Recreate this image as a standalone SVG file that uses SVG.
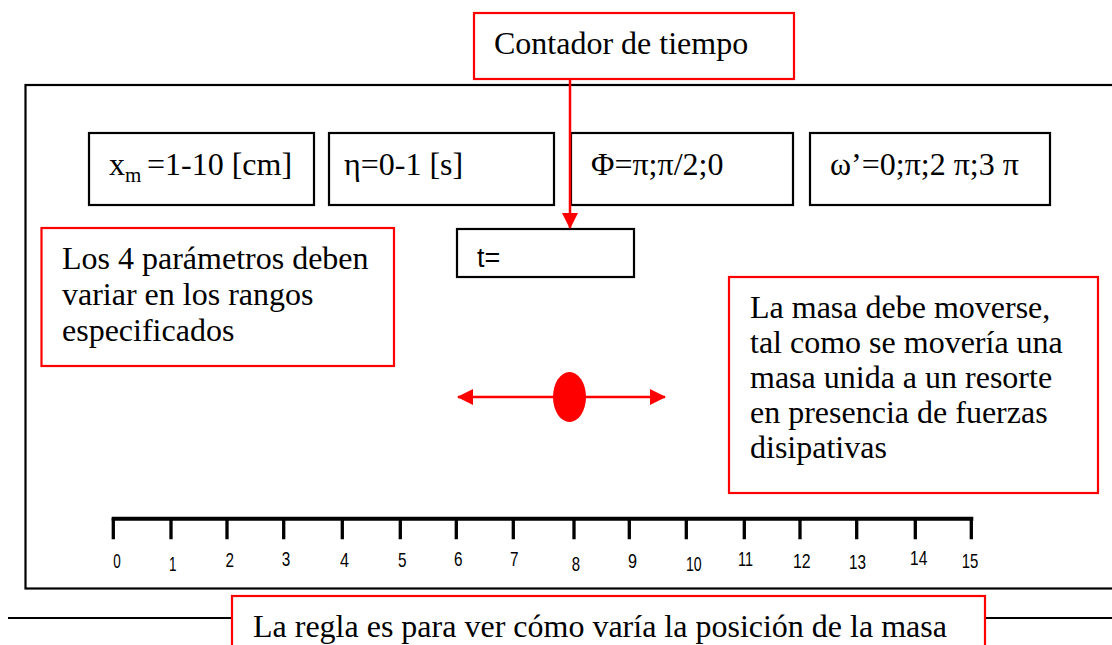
<svg xmlns="http://www.w3.org/2000/svg" width="1112" height="645" viewBox="0 0 1112 645">
<style>
.t{font-family:"Liberation Serif","Times New Roman",serif;font-size:32px;fill:#000}
.bb{fill:#fff;stroke:#000;stroke-width:2.2}
.rb{fill:#fff;stroke:#f00;stroke-width:2.2}
.rl{stroke:#f00;stroke-width:2.5;fill:none}
.num{font-family:"Liberation Sans",Arial,sans-serif;font-size:21px;fill:#000}
</style>
<defs>
<marker id="ah" viewBox="0 0 16 16" refX="15" refY="8" markerWidth="16" markerHeight="16" markerUnits="userSpaceOnUse" orient="auto-start-reverse">
<path d="M0,0 L16,8 L0,16 Z" fill="#f00"/>
</marker>
</defs>
<rect width="1112" height="645" fill="#fff"/>
<g id="frame"><rect x="25.5" y="85" width="1100" height="503.5" fill="none" stroke="#000" stroke-width="2.2"/></g>
<g id="pagebar"><line x1="8" y1="618" x2="1112" y2="618" stroke="#000" stroke-width="2.2"/></g>
<g id="contador"><rect class="rb" x="474" y="13" width="320" height="66"/><text class="t" x="494" y="54">Contador de tiempo</text></g>
<g id="xm"><rect class="bb" x="89" y="133" width="225" height="72"/><text class="t" x="109" y="175">x<tspan font-size="21" dy="7">m </tspan><tspan x="147" dy="-7">=1-10 [cm]</tspan></text></g>
<g id="eta"><rect class="bb" x="329" y="133" width="225" height="72"/><text class="t" x="344" y="175">η=0-1 [s]</text></g>
<g id="phi"><rect class="bb" x="571" y="133" width="222" height="72"/><text class="t" x="591" y="175">Φ=π;π/2;0</text></g>
<g id="omega"><rect class="bb" x="810" y="133" width="240" height="72"/><text class="t" x="830" y="175">ω’=0;π;2 π;3 π</text></g>
<g id="tbox"><rect class="bb" x="457" y="229" width="177" height="48"/><text x="477" y="267" font-family="Liberation Sans,Arial,sans-serif" font-size="27">t=</text></g>
<g id="nota-parametros"><rect class="rb" x="41.5" y="228" width="352.5" height="138"/><text class="t"><tspan x="62" y="269">Los 4 parámetros deben</tspan><tspan x="62" y="305">variar en los rangos</tspan><tspan x="62" y="341">especificados</tspan></text></g>
<g id="nota-masa"><rect class="rb" x="729" y="277" width="369" height="216"/><text class="t"><tspan x="750" y="318">La masa debe moverse,</tspan><tspan x="750" y="353">tal como se movería una</tspan><tspan x="750" y="388">masa unida a un resorte</tspan><tspan x="750" y="423">en presencia de fuerzas</tspan><tspan x="750" y="458">disipativas</tspan></text></g>
<g id="masa"><ellipse cx="569.5" cy="397" rx="16.5" ry="25" fill="#f00"/></g>
<g id="regla">
<path d="M111.7,518.7 H973.3" stroke="#000" stroke-width="4" fill="none"/>
<path d="M113.3,518 V539.3 M171,518 V539.3 M227,518 V539.3 M283.7,518 V539.3 M342.3,518 V539.3 M400.3,518 V539.3 M456.3,518 V539.3 M513.3,518 V539.3 M574,518 V539.3 M629.3,518 V539.3 M686.3,518 V539.3 M744.3,518 V539.3 M800,518 V539.3 M856.7,518 V539.3 M915.3,518 V539.3 M971.3,518 V539.3" stroke="#000" stroke-width="3.3" fill="none"/>
<text class="num" x="113.3" y="568.3" textLength="7.5" lengthAdjust="spacingAndGlyphs">0</text>
<text class="num" x="169" y="570.7" textLength="7.5" lengthAdjust="spacingAndGlyphs">1</text>
<text class="num" x="225.5" y="566.7" textLength="8.5" lengthAdjust="spacingAndGlyphs">2</text>
<text class="num" x="281.7" y="566" textLength="8.5" lengthAdjust="spacingAndGlyphs">3</text>
<text class="num" x="340" y="566.7" textLength="9" lengthAdjust="spacingAndGlyphs">4</text>
<text class="num" x="398" y="566.7" textLength="8.5" lengthAdjust="spacingAndGlyphs">5</text>
<text class="num" x="454" y="566" textLength="8.5" lengthAdjust="spacingAndGlyphs">6</text>
<text class="num" x="510" y="566" textLength="8.5" lengthAdjust="spacingAndGlyphs">7</text>
<text class="num" x="571.7" y="570.7" textLength="8.3" lengthAdjust="spacingAndGlyphs">8</text>
<text class="num" x="628" y="568.3" textLength="9" lengthAdjust="spacingAndGlyphs">9</text>
<text class="num" x="686" y="570.7" textLength="15.7" lengthAdjust="spacingAndGlyphs">10</text>
<text class="num" x="738" y="566" textLength="15" lengthAdjust="spacingAndGlyphs">11</text>
<text class="num" x="793" y="568.3" textLength="17.7" lengthAdjust="spacingAndGlyphs">12</text>
<text class="num" x="849" y="569.3" textLength="17" lengthAdjust="spacingAndGlyphs">13</text>
<text class="num" x="910" y="565.3" textLength="17.3" lengthAdjust="spacingAndGlyphs">14</text>
<text class="num" x="961.7" y="568.3" textLength="16.6" lengthAdjust="spacingAndGlyphs">15</text>
</g>
<g id="nota-regla"><rect class="rb" x="232" y="596" width="753" height="70"/><text class="t" x="253" y="637">La regla es para ver cómo varía la posición de la masa</text></g>
<g id="connectors">
<line class="rl" x1="570" y1="79" x2="570" y2="228" marker-end="url(#ah)"/>
<line class="rl" x1="458" y1="397" x2="665" y2="397" marker-start="url(#ah)" marker-end="url(#ah)"/>
</g>
</svg>
